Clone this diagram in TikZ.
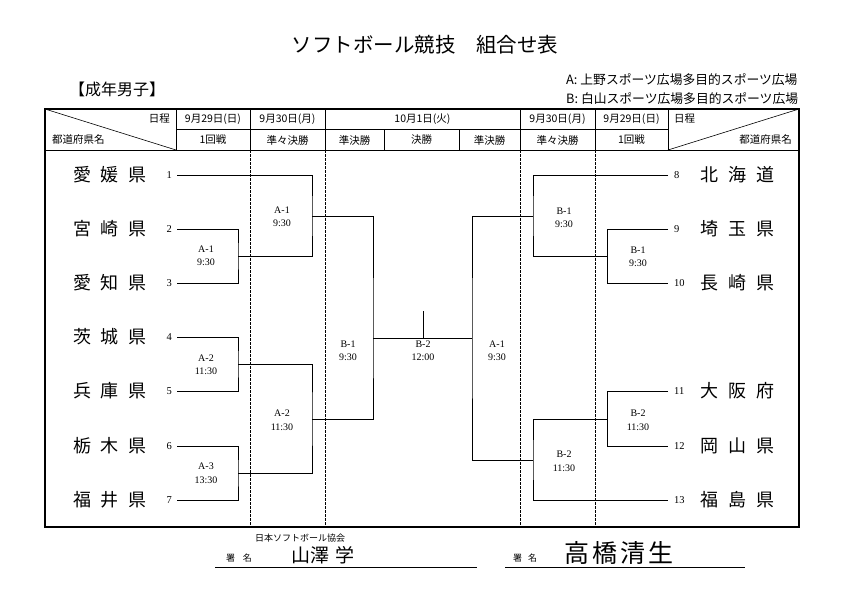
\documentclass[tikz,border=0pt]{standalone}
\usepackage{fontspec}
\setmainfont{Liberation Serif}
\newfontfamily\jp{Noto Sans CJK JP}
\begin{document}
\begin{tikzpicture}[x=1pt,y=-1pt,
  bline/.style={line width=0.9pt},
  frame/.style={line width=1.6pt},
  gridl/.style={line width=0.6pt},
  dsh/.style={line width=0.6pt, dash pattern=on 2.5pt off 1.5pt},
  team/.style={font=\jp\fontsize{18}{18}\selectfont, inner sep=0pt},
  num/.style={font=\fontsize{10.5}{10.5}\selectfont, inner ysep=0pt},
  lab/.style={font=\fontsize{10}{13.5}\selectfont, align=center, inner sep=0pt},
  hd/.style={font=\jp\fontsize{10.5}{10.5}\selectfont, inner sep=0pt},
]
\useasboundingbox[fill=white] (0,0) rectangle (842,595);

% title and captions
\node[font=\jp\fontsize{20.5}{20.5}\selectfont, inner sep=0pt] (title) at (425,45) {ソフトボール競技　組合せ表};
\node[font=\jp\fontsize{16}{16}\selectfont, inner sep=0pt] (cat) at (117,89) {【成年男子】};
\node[font=\jp\fontsize{12.8}{12.8}\selectfont, inner sep=0pt, anchor=west] (legA) at (566,80) {A: 上野スポーツ広場多目的スポーツ広場};
\node[font=\jp\fontsize{12.8}{12.8}\selectfont, inner sep=0pt, anchor=west] (legB) at (566,99) {B: 白山スポーツ広場多目的スポーツ広場};

% table frame
\draw[frame] (45,109) rectangle (799,527);
\draw[gridl] (176,129) -- (668,129);
\draw[gridl] (45,150) -- (799,150);
\foreach \x in {176,250,325,520,595,668} \draw[gridl] (\x,109) -- (\x,150);
\foreach \x in {384,459} \draw[gridl] (\x,129) -- (\x,150);
\draw[gridl] (45,109) -- (176,150);
\draw[gridl] (668,150) -- (799,109);
\foreach \x in {250,325,520,595} \draw[dsh] (\x,150) -- (\x,527);

% header texts
\node[hd, anchor=east] (hL1) at (170,119) {日程};
\node[hd, anchor=west] (hL2) at (52,140) {都道府県名};
\node[hd, anchor=west] (hR1) at (674,119) {日程};
\node[hd, anchor=east] (hR2) at (792,140) {都道府県名};
\node[hd] (d1) at (213,119) {9月29日(日)};
\node[hd] (d2) at (287.5,119) {9月30日(月)};
\node[hd] (d3) at (422.5,119) {10月1日(火)};
\node[hd] (d4) at (557.5,119) {9月30日(月)};
\node[hd] (d5) at (631.5,119) {9月29日(日)};
\node[hd] (r1) at (213,140) {1回戦};
\node[hd] (r2) at (287.5,140) {準々決勝};
\node[hd] (r3) at (354.5,140) {準決勝};
\node[hd] (r4) at (421.5,140) {決勝};
\node[hd] (r5) at (489.5,140) {準決勝};
\node[hd] (r6) at (557.5,140) {準々決勝};
\node[hd] (r7) at (631.5,140) {1回戦};

% teams left
\foreach \i/\nm/\y in {1/愛\hspace{10pt}媛\hspace{10pt}県/175, 2/宮\hspace{10pt}崎\hspace{10pt}県/229, 3/愛\hspace{10pt}知\hspace{10pt}県/283, 4/茨\hspace{10pt}城\hspace{10pt}県/337, 5/兵\hspace{10pt}庫\hspace{10pt}県/391, 6/栃\hspace{10pt}木\hspace{10pt}県/446, 7/福\hspace{10pt}井\hspace{10pt}県/500}{
  \node[team] (t\i) at (110,\y) {\nm};
  \node[num, anchor=east, inner xsep=5pt] (n\i) at (177,\y) {\i};
}
% teams right
\foreach \i/\nm/\y in {8/北\hspace{10pt}海\hspace{10pt}道/175, 9/埼\hspace{10pt}玉\hspace{10pt}県/229, 10/長\hspace{10pt}崎\hspace{10pt}県/283, 11/大\hspace{10pt}阪\hspace{10pt}府/391, 12/岡\hspace{10pt}山\hspace{10pt}県/446, 13/福\hspace{10pt}島\hspace{10pt}県/500}{
  \node[team] (t\i) at (737,\y) {\nm};
  \node[num, anchor=west, inner xsep=6pt] (n\i) at (668,\y) {\i};
}

% bracket points
\coordinate (fa1) at (238,256);
\coordinate (fa2) at (238,364);
\coordinate (fa3) at (238,473);
\coordinate (qa1) at (312,216);
\coordinate (qa2) at (312,419);
\coordinate (sb1) at (373,338);
\coordinate (sa1) at (472,338);
\coordinate (fin) at (423,338);
\coordinate (fint) at (423,311);
\coordinate (qb1) at (533,216);
\coordinate (qb2) at (533,460);
\coordinate (gb1) at (607,256);
\coordinate (gb2) at (607,419);

% left bracket
\draw[bline] (n2.east) -| (fa1) |- (n3.east);
\draw[bline] (n4.east) -| (fa2) |- (n5.east);
\draw[bline] (n6.east) -| (fa3) |- (n7.east);
\draw[bline] (n1.east) -| (qa1) |- (fa1);
\draw[bline] (fa2) -| (qa2) |- (fa3);
\draw[bline] (qa1) -| (sb1) |- (qa2);
% final
\draw[bline] (sb1) -- (sa1);
\draw[bline] (fin) -- (fint);
% right bracket
\draw[bline] (qb1) -| (sa1) |- (qb2);
\draw[bline] (n8.west) -| (qb1) |- (gb1);
\draw[bline] (n9.west) -| (gb1) |- (n10.west);
\draw[bline] (n11.west) -| (gb2) |- (n12.west);
\draw[bline] (gb2) -| (qb2) |- (n13.west);

% match labels
\node[lab] (m1) at (206,256) {A-1\\9:30};
\node[lab] (m2) at (206,365) {A-2\\11:30};
\node[lab] (m3) at (206,473) {A-3\\13:30};
\node[lab] (m4) at (282,217) {A-1\\9:30};
\node[lab] (m5) at (282,420) {A-2\\11:30};
\node[lab] (m6) at (348,351) {B-1\\9:30};
\node[lab] (m7) at (423,351) {B-2\\12:00};
\node[lab] (m8) at (497,351) {A-1\\9:30};
\node[lab] (m9) at (564,218) {B-1\\9:30};
\node[lab] (m10) at (564,461) {B-2\\11:30};
\node[lab] (m11) at (638,257) {B-1\\9:30};
\node[lab] (m12) at (638,420) {B-2\\11:30};

% signatures
\node[font=\jp\fontsize{9}{9}\selectfont, inner sep=0pt] (org) at (300,538) {日本ソフトボール協会};
\node[font=\jp\fontsize{9}{9}\selectfont, inner sep=0pt] (s1) at (239,558) {署\hspace{8pt}名};
\node[font=\jp\fontsize{19}{19}\selectfont, inner sep=0pt] (sn1) at (323,555) {山澤\hspace{6pt}学};
\node[font=\jp\fontsize{9}{9}\selectfont, inner sep=0pt] (s2) at (525,558) {署\hspace{6pt}名};
\node[font=\jp\fontsize{25}{25}\selectfont, inner sep=0pt] (sn2) at (619,553) {高\hspace{3pt}橋\hspace{3pt}清\hspace{3pt}生};
\coordinate (u1a) at (215,567);
\coordinate (u1b) at (477,567);
\coordinate (u2a) at (505,567);
\coordinate (u2b) at (745,567);
\draw[gridl] (u1a) -- (u1b);
\draw[gridl] (u2a) -- (u2b);
\end{tikzpicture}
\end{document}
